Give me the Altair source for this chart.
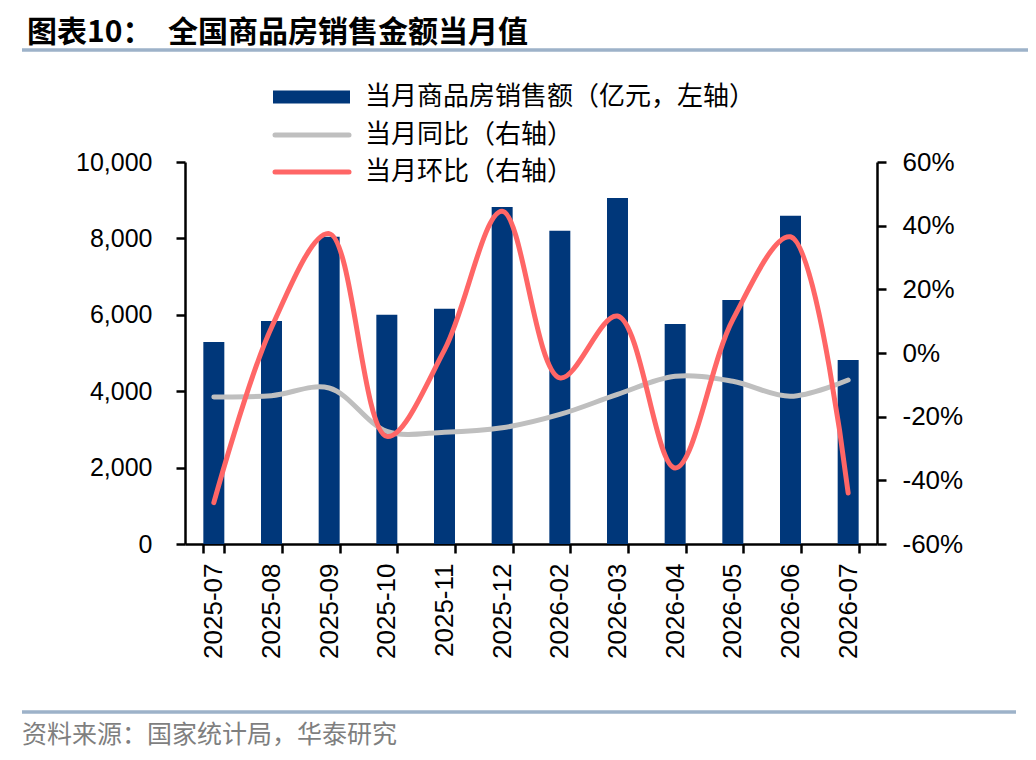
import altair as alt
import pandas as pd

# ---------------- data ----------------
months = ["2025-07", "2025-08", "2025-09", "2025-10", "2025-11", "2025-12",
          "2026-02", "2026-03", "2026-04", "2026-05", "2026-06", "2026-07"]
sales = [5290, 5840, 8040, 6000, 6160, 8820, 8200, 9060, 5760, 6390, 8590, 4820]   # 亿元
yoy = [-13.8, -13.4, -11.0, -24.6, -24.9, -23.5, -19.3, -13.0, -7.3, -8.9, -13.6, -8.5]  # %
mom = [-47.0, 8.0, 37.5, -26.2, 1.0, 44.5, -7.8, 11.6, -36.1, 10.5, 36.5, -44.0]      # %

series_names = ["当月商品房销售额（亿元，左轴）", "当月同比（右轴）", "当月环比（右轴）"]
title_prefix = ["图表10："]
title_main = ["全国商品房销售金额当月值"]
source_text = ["资料来源：国家统计局，华泰研究"]
left_ticks = [0, 2000, 4000, 6000, 8000, 10000]
right_ticks = [-60, -40, -20, 0, 20, 40, 60]

BAR = "#00377A"
GRAY = "#BFBFBF"
RED = "#FF6666"
RULE = "#9DB2C9"

df = pd.DataFrame({"month": months, "sales": sales, "yoy": yoy, "mom": mom})
df_long = pd.concat([
    pd.DataFrame({"month": months, "pct": yoy, "series": series_names[1]}),
    pd.DataFrame({"month": months, "pct": mom, "series": series_names[2]}),
], ignore_index=True)

W, H = 692, 382

x_enc = alt.X(
    "month:N", sort=months,
    scale=alt.Scale(paddingInner=0.636, paddingOuter=0.318),
    axis=alt.Axis(
        title=None, labelAngle=270, labelFont="Liberation Sans", labelFontSize=26,
        labelColor="black", labelPadding=10, tickBand="extent", tickSize=9,
        tickWidth=2.5, tickColor="black", domainColor="black", domainWidth=2.5,
        grid=False, labelOverlap=False,
    ),
)

bars = alt.Chart(df).mark_bar(color=BAR).encode(
    x=x_enc,
    y=alt.Y(
        "sales:Q",
        scale=alt.Scale(domain=[0, 10000], nice=False),
        axis=alt.Axis(
            values=left_ticks, format=",d", title=None, orient="left", grid=False,
            labelFont="Liberation Sans", labelFontSize=25, labelColor="black",
            labelPadding=24, tickSize=9, tickWidth=2.5, tickColor="black",
            domainColor="black", domainWidth=2.5,
        ),
    ),
)

# both percentage series in one line layer (gray drawn first, red on top)
lines = alt.Chart(df_long).mark_line(
    strokeWidth=5, strokeCap="round", interpolate="catmull-rom"
).encode(
    x=x_enc,
    y=alt.Y(
        "pct:Q",
        scale=alt.Scale(domain=[-60, 60], nice=False),
        axis=alt.Axis(
            values=right_ticks, labelExpr="datum.value + '%'", title=None,
            orient="right", grid=False, labelFont="Liberation Sans",
            labelFontSize=26, labelColor="black", labelPadding=16, tickSize=9,
            tickWidth=2.5, tickColor="black", domainColor="black", domainWidth=2.5,
        ),
    ),
    color=alt.Color(
        "series:N",
        scale=alt.Scale(domain=series_names[1:], range=[GRAY, RED]),
        legend=None,
    ),
)

# ---------------- decorations (title, legend, source) ----------------
one = pd.DataFrame({"k": [0]})


def text_layer(values, x, y, size, weight="normal", color="black"):
    return alt.Chart(pd.DataFrame({"t": values})).mark_text(
        align="left", baseline="middle", font="Noto Sans CJK SC",
        fontWeight=weight, fontSize=size, color=color
    ).encode(x=alt.value(x), y=alt.value(y), text="t:N")


title_a = text_layer(title_prefix, -158, -129, 30, "bold")
title_b = text_layer(title_main, -17, -129, 30, "bold")

title_rule = alt.Chart(one).mark_rule(color=RULE, strokeWidth=3.5).encode(
    x=alt.value(-163), x2=alt.value(843), y=alt.value(-112)
)

leg_bar = alt.Chart(one).mark_rect(color=BAR).encode(
    x=alt.value(88), x2=alt.value(165), y=alt.value(-71.5), y2=alt.value(-58.5)
)
leg_gray = alt.Chart(one).mark_rule(color=GRAY, strokeWidth=5, strokeCap="round").encode(
    x=alt.value(90), x2=alt.value(164), y=alt.value(-27)
)
leg_red = alt.Chart(one).mark_rule(color=RED, strokeWidth=5, strokeCap="round").encode(
    x=alt.value(90), x2=alt.value(164), y=alt.value(10)
)
leg_t0 = text_layer([series_names[0]], 180, -65, 26)
leg_t1 = text_layer([series_names[1]], 180, -27, 26)
leg_t2 = text_layer([series_names[2]], 180, 10, 26)

foot_rule = alt.Chart(one).mark_rule(color=RULE, strokeWidth=3.5).encode(
    x=alt.value(-163), x2=alt.value(831), y=alt.value(550)
)
foot_text = text_layer(source_text, -163, 573, 25, color="#7F7F7F")

chart = alt.layer(
    bars, lines, title_a, title_b, title_rule, leg_bar, leg_gray, leg_red,
    leg_t0, leg_t1, leg_t2, foot_rule, foot_text
).resolve_scale(y="independent").properties(
    width=W, height=H,
    padding={"left": 177, "top": 154, "right": 151, "bottom": 206},
    autosize=alt.AutoSizeParams(type="none"),
).configure_view(stroke=None)

chart.save("out.html", embed_options={"renderer": "svg", "actions": False})
